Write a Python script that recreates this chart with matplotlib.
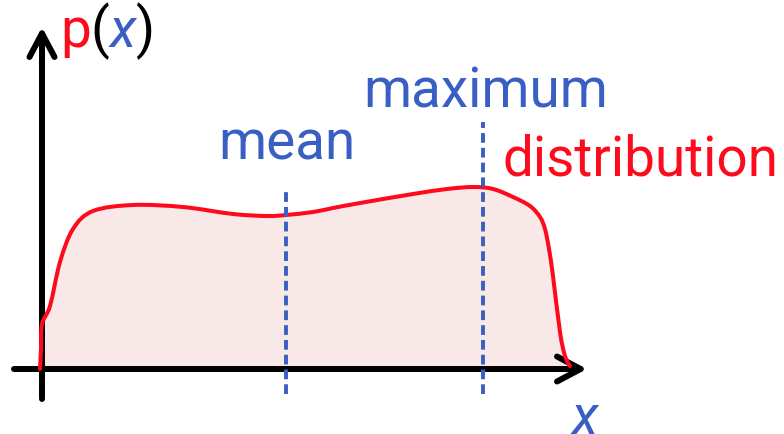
import numpy as np
import matplotlib
matplotlib.use('Agg')
import matplotlib.pyplot as plt
from matplotlib.path import Path
from matplotlib.patches import PathPatch

x_vals = [-2, -1, 0, 8, 18, 31, 51, 91, 141, 191, 225, 244, 271, 291, 318,
          371, 405, 431, 451, 471, 488, 498, 503, 507, 511, 518, 523, 528]
p_vals = [0, 20, 45, 63, 107, 140, 158, 164, 162, 155, 153, 154, 157, 161, 166,
          175, 180, 182, 180, 172, 163, 152, 140, 120, 93, 37, 13, 3]

mean_x = 244
max_x = 441
mean_top = 177
max_top = 247
line_bottom = -25

labels = {'mean': 'mean', 'maximum': 'maximum', 'dist': 'distribution'}

RED = '#ff0a1c'
BLUE = '#3a5fc4'
FILL = '#f8e8e8'
FONT = 'Roboto'
FS = 39.5


def smooth_path(xs, ys, close_to=None):
    """Bezier path through the points (Catmull-Rom control points)."""
    pts = np.column_stack([xs, ys]).astype(float)
    verts = [pts[0]]
    codes = [Path.MOVETO]
    n = len(pts)
    for i in range(n - 1):
        p0 = pts[max(i - 1, 0)]
        p1 = pts[i]
        p2 = pts[i + 1]
        p3 = pts[min(i + 2, n - 1)]
        c1 = p1 + (p2 - p0) / 6.0
        c2 = p2 - (p3 - p1) / 6.0
        verts += [c1, c2, p2]
        codes += [Path.CURVE4] * 3
    if close_to is not None:
        verts += [(pts[-1][0], close_to), (pts[0][0], close_to), pts[0]]
        codes += [Path.LINETO, Path.LINETO, Path.CLOSEPOLY]
    return Path(verts, codes)


fig = plt.figure(figsize=(7.84, 4.35), dpi=100)
ax = fig.add_axes([0, 0, 1, 1])
ax.set_xlim(-42, 742)
ax.set_ylim(-65, 370)
ax.axis('off')

# filled distribution
ax.add_patch(PathPatch(smooth_path(x_vals, p_vals, close_to=0), facecolor=FILL,
                       edgecolor='none', zorder=1))

# axes with arrow heads
arrow_kw = dict(arrowstyle='->,head_length=0.85,head_width=0.45', lw=4.3,
                color='black', capstyle='round', joinstyle='round',
                mutation_scale=20, shrinkA=0, shrinkB=0)
ax.annotate('', xy=(545, 0), xytext=(-28, 0), arrowprops=arrow_kw, zorder=3)
ax.annotate('', xy=(0, 342), xytext=(0, -30), arrowprops=arrow_kw, zorder=3)

ax.add_patch(PathPatch(smooth_path(x_vals, p_vals), facecolor='none',
                       edgecolor=RED, lw=2.9, joinstyle='round',
                       capstyle='round', zorder=4))

# mean / maximum markers
ax.vlines([mean_x, max_x], line_bottom, [mean_top, max_top], colors=BLUE,
          lw=2.8, linestyles=[(0, (2.5, 1.3))], zorder=5)

ax.text(176, 210, labels['mean'], color=BLUE, fontsize=FS, family=FONT, va='baseline')
ax.text(321, 263, labels['maximum'], color=BLUE, fontsize=FS, family=FONT, va='baseline')
ax.text(461, 195, labels['dist'], color=RED, fontsize=FS, family=FONT, va='baseline')

# p(x) in several colours
fig.canvas.draw()
renderer = fig.canvas.get_renderer()
pieces = [('p', RED, 'normal'), ('(', 'black', 'normal'),
          ('x', BLUE, 'italic'), (')', 'black', 'normal')]
xpos = 18
for s, c, st in pieces:
    t = ax.text(xpos, 323, s, color=c, fontsize=FS, family=FONT, style=st,
                va='baseline')
    bb = t.get_window_extent(renderer)
    xpos = ax.transData.inverted().transform((bb.x1, 0))[0]

ax.text(530, -64, 'x', color=BLUE, fontsize=FS, family=FONT, style='italic',
        va='baseline')

fig.savefig('out.png', dpi=100)
